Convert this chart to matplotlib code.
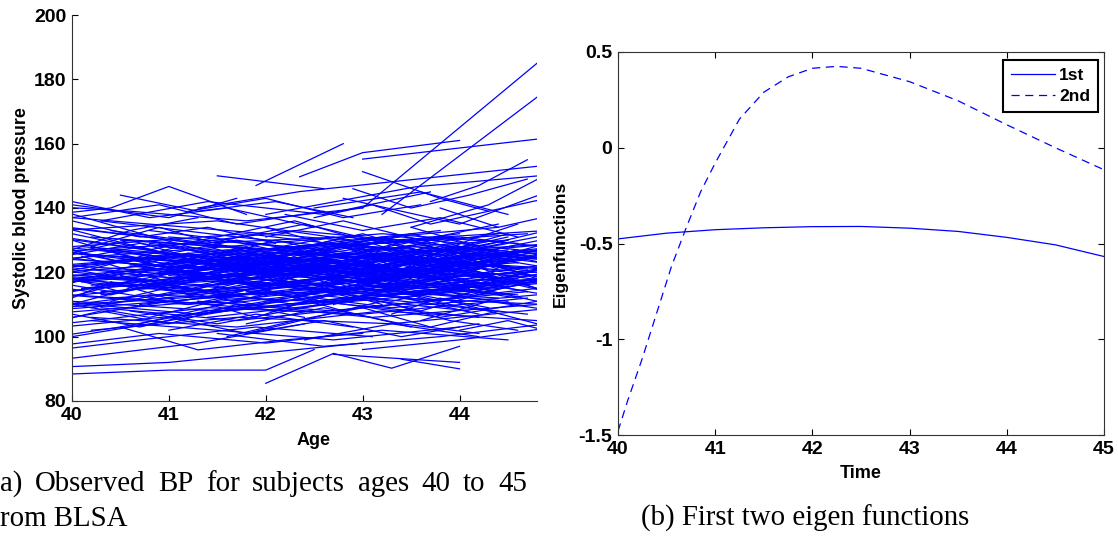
import matplotlib
matplotlib.use("Agg")
import matplotlib.pyplot as plt

# ---- (a) observed systolic BP, one polyline per subject (visit ages / values) ----
visit_ages = [
    [39.6, 41.2, 42.9, 44.6], [40.0, 41.5, 43.1, 45.0], [39.8, 41.0, 42.3, 43.7, 45.2],
    [40.2, 42.0, 43.8], [39.5, 40.8, 42.5, 44.2], [40.0, 41.7, 43.4, 45.1],
    [39.7, 41.3, 42.8, 44.4], [40.1, 41.9, 43.5, 45.0], [39.9, 41.4, 43.0, 44.7],
    [40.3, 41.8, 43.3, 44.9], [39.6, 41.1, 42.6, 44.0, 45.3], [40.0, 42.2, 44.1],
    [39.8, 41.6, 43.2, 44.8], [40.4, 41.9, 43.6, 45.1], [39.5, 40.9, 42.4, 43.9, 45.4],
    [40.0, 41.5, 43.0, 44.5], [39.7, 41.2, 42.7, 44.3], [40.2, 41.7, 43.2, 44.8],
    [39.9, 41.5, 42.9, 44.4], [40.1, 41.6, 43.1, 44.6], [39.6, 41.0, 42.5, 44.0, 45.5],
    [40.5, 42.1, 43.7, 45.2], [39.8, 41.3, 42.8, 44.2], [40.0, 41.8, 43.5, 45.0],
    [39.5, 41.1, 42.6, 44.1], [40.3, 41.9, 43.4, 44.9], [39.7, 41.4, 43.0, 44.6],
    [40.0, 41.6, 43.2, 44.7], [39.9, 41.2, 42.7, 44.3], [40.2, 41.7, 43.3, 45.0],
    [39.6, 41.3, 42.9, 44.5], [40.1, 41.5, 43.0, 44.4], [39.8, 41.0, 42.4, 43.8, 45.2],
    [40.4, 42.0, 43.6, 45.1], [39.5, 41.1, 42.7, 44.2], [40.0, 41.9, 43.7],
    [39.7, 41.4, 43.1, 44.8], [40.2, 41.8, 43.4, 44.9], [39.9, 41.6, 43.2, 44.6],
    [40.1, 41.3, 42.8, 44.3], [39.6, 41.2, 42.6, 44.0, 45.4], [40.3, 41.7, 43.3, 44.7],
    [39.8, 41.5, 43.0, 44.5], [40.0, 41.4, 42.9, 44.4], [39.5, 41.0, 42.5, 44.1],
    [40.5, 42.0, 43.5, 45.0], [39.7, 41.3, 42.8, 44.2], [40.2, 41.9, 43.6, 45.2],
    [39.9, 41.6, 43.1, 44.7], [40.1, 41.8, 43.4, 44.9], [39.6, 41.1, 42.7, 44.3],
    [40.0, 41.5, 43.2, 44.8], [39.8, 41.4, 42.9, 44.6], [40.3, 41.7, 43.0, 44.5],
    [39.5, 41.2, 42.8, 44.4], [40.2, 41.6, 43.3, 44.9], [39.7, 41.0, 42.6, 44.1],
    [40.0, 41.8, 43.5, 45.1], [39.9, 41.3, 42.7, 44.2], [40.4, 41.9, 43.4, 45.0],
    [41.0, 42.3, 43.6], [41.2, 42.5, 43.9], [40.8, 42.1, 43.4, 44.6],
    [41.4, 42.7, 44.0], [41.1, 42.4, 43.7, 45.0], [40.9, 42.2, 43.5],
    [41.3, 42.6, 44.1], [41.6, 42.9, 44.3], [40.7, 42.0, 43.3, 44.8],
    [41.5, 42.8, 44.2], [41.2, 42.4, 43.8], [41.0, 42.6, 44.0],
    [41.8, 43.1, 44.5], [40.6, 41.9, 43.2, 44.7], [41.4, 42.9, 44.4],
    [41.7, 43.0, 44.6], [41.1, 42.5, 43.9], [41.9, 43.3, 44.8],
    [40.9, 42.3, 43.7], [41.3, 42.7, 44.0], [42.0, 43.2, 44.5],
    [41.5, 42.8, 44.3], [40.8, 42.2, 43.6, 45.0], [41.6, 43.0, 44.4],
    [42.1, 43.4, 44.9], [41.0, 42.4, 43.8], [41.7, 43.1, 44.7],
    [42.3, 43.5, 44.8], [41.2, 42.6, 44.1], [41.9, 43.2, 44.6],
    [39.7, 40.6, 41.5, 42.4, 43.3, 44.2, 45.1], [40.0, 40.9, 41.8, 42.7, 43.6, 44.5],
    [39.8, 40.7, 41.6, 42.5, 43.4, 44.3], [40.1, 41.0, 41.9, 42.8, 43.7, 44.6],
    [39.6, 40.5, 41.4, 42.3, 43.2, 44.1, 45.0], [40.2, 41.1, 42.0, 42.9, 43.8, 44.7],
    [39.9, 40.8, 41.7, 42.6, 43.5, 44.4], [40.0, 41.2, 42.4, 43.6, 44.8],
    [39.5, 40.7, 41.9, 43.1, 44.3], [40.3, 41.5, 42.7, 43.9, 45.1],
    [39.7, 40.9, 42.1, 43.3, 44.5], [40.1, 41.3, 42.5, 43.7, 44.9],
    [39.8, 41.0, 42.2, 43.4, 44.6], [40.4, 41.6, 42.8, 44.0, 45.2],
    [39.6, 40.8, 42.0, 43.2, 44.4], [40.0, 41.1, 42.3, 43.5, 44.7],
    [39.9, 41.2, 42.5, 43.8, 45.1], [40.2, 41.4, 42.6, 43.8, 45.0],
    [39.5, 40.6, 41.7, 42.8, 43.9, 45.0], [40.0, 41.3, 42.6, 43.9],
    [40.6, 41.6, 42.6, 43.6, 44.6], [40.8, 41.8, 42.8, 43.8, 44.8],
    [40.5, 41.5, 42.5, 43.5, 44.5], [40.7, 41.7, 42.7, 43.7, 44.7],
    [40.9, 41.9, 42.9, 43.9, 44.9], [41.0, 42.0, 43.0, 44.0, 45.0],
    [40.4, 41.4, 42.4, 43.4, 44.4], [40.6, 41.5, 42.4, 43.3, 44.2],
    [41.1, 42.1, 43.1, 44.1, 45.1], [40.3, 41.2, 42.1, 43.0, 43.9, 44.8],
    [41.3, 42.2, 43.1, 44.0, 44.9], [40.8, 41.7, 42.6, 43.5, 44.4],
    [41.5, 42.4, 43.3, 44.2], [40.9, 41.8, 42.7, 43.6, 44.5],
    [41.2, 42.1, 43.0, 43.9, 44.8], [41.4, 42.3, 43.2, 44.1, 45.0],
    [41.6, 42.5, 43.4, 44.3], [41.0, 41.9, 42.8, 43.7, 44.6],
    [41.8, 42.7, 43.6, 44.5], [41.3, 42.4, 43.5, 44.6],
    [40.0, 40.7, 41.4, 42.1], [39.6, 40.3, 41.0, 41.7, 42.4],
    [40.0, 40.6, 41.2, 41.8], [39.8, 40.5, 41.2, 41.9, 42.6],
    [40.0, 40.9, 41.8], [39.7, 40.4, 41.1, 41.8],
    [40.0, 40.8, 41.6, 42.4], [39.9, 40.6, 41.3],
    [40.0, 40.7, 41.5], [39.5, 40.4, 41.3, 42.2],
    [43.0, 43.7, 44.4, 45.1], [43.2, 43.9, 44.6],
    [42.9, 43.6, 44.3, 45.0], [43.4, 44.1, 44.8],
    [42.8, 43.5, 44.2, 44.9], [43.1, 43.8, 44.5],
    [43.5, 44.2, 44.9], [42.7, 43.4, 44.1, 44.8],
    [43.3, 44.0, 44.7], [43.6, 44.3, 45.0],
    [42.0, 42.8, 43.6, 44.4], [41.8, 42.6, 43.4, 44.2],
    [42.2, 43.0, 43.8, 44.6], [41.6, 42.3, 43.0, 43.7, 44.4],
    [44.0, 44.5, 45.0], [43.8, 44.4, 45.0],
    [40.0, 40.8, 41.6, 42.5], [39.6, 40.5, 41.4],
    [41.0, 41.9, 42.9], [42.4, 43.3, 44.2],
    [40.0, 40.5, 41.0, 41.5, 42.0], [40.0, 40.6, 41.3, 42.0, 42.7],
    [40.0, 40.4, 41.1, 41.9], [40.0, 40.8, 41.5, 42.3, 43.0],
    [40.0, 40.7, 41.4, 42.2], [41.0, 41.6, 42.2, 42.8, 43.4, 44.0],
    [41.2, 41.8, 42.4, 43.0, 43.6, 44.2], [41.4, 42.0, 42.6, 43.2, 43.8, 44.4],
    [41.1, 41.7, 42.3, 42.9, 43.5, 44.1], [41.3, 41.9, 42.5, 43.1, 43.7, 44.3],
    [41.5, 42.1, 42.7, 43.3, 43.9, 44.5], [41.7, 42.3, 42.9, 43.5, 44.1, 44.7],
    [41.9, 42.5, 43.1, 43.7, 44.3, 44.9], [42.0, 42.6, 43.2, 43.8, 44.4, 45.0],
    [42.2, 42.8, 43.4, 44.0, 44.6], [42.4, 43.0, 43.6, 44.2, 44.8],
    [42.6, 43.2, 43.8, 44.4, 45.0], [41.6, 42.4, 43.2, 44.0, 44.8],
    [40.8, 41.5, 42.2, 42.9, 43.6], [40.6, 41.3, 42.0, 42.7, 43.4],
    [40.4, 41.1, 41.8, 42.5, 43.2], [40.2, 40.9, 41.6, 42.3, 43.0],
    [40.5, 41.2, 41.9, 42.6, 43.3], [40.7, 41.4, 42.1, 42.8, 43.5],
    [43.0, 43.5, 44.0, 44.5, 45.0], [43.1, 43.6, 44.1, 44.6],
    [43.3, 43.8, 44.3, 44.8], [42.5, 43.1, 43.7, 44.3, 44.9],
    [41.2, 42.0, 42.8, 43.6], [40.0, 40.9, 41.7, 42.6],
    [41.8, 42.5, 43.2, 43.9, 44.6], [42.9, 43.5, 44.1, 44.7],
    [40.5, 41.3, 42.1, 42.9], [43.7, 44.2, 44.7],
    [41.0, 41.8, 42.6, 43.4, 44.2],
    # upper band / outliers
    [39.5, 40.6, 41.8, 43.0], [39.8, 40.4, 41.0, 41.8], [41.5, 42.6],
    [41.9, 42.8], [42.35, 43.0, 44.0], [43.0, 45.0],
    [43.0, 43.8, 44.3], [41.3, 42.35, 45.0], [43.0, 45.0],
    [43.2, 45.0], [42.0, 43.55, 45.0], [40.0, 41.0, 41.7],
    [42.5, 43.6, 44.5], [43.5, 44.3, 45.0], [40.3, 41.4, 42.6, 43.7],
    [42.8, 44.0, 45.0],
    # lower band
    [40.0, 41.0, 42.0, 42.5], [40.0, 41.0, 42.0, 43.0], [40.0, 41.3, 42.4],
    [40.0, 40.8, 41.6], [42.0, 42.7, 43.3, 44.0], [42.7, 44.0],
    [43.4, 44.0], [40.5, 41.3, 42.2, 43.0], [39.8, 40.9, 42.0, 43.2, 44.5],
    [41.5, 42.6, 43.8, 44.9], [43.0, 44.0, 45.0], [40.2, 41.5, 42.7, 44.0],
    [39.6, 40.7, 41.9, 43.1],
]
visit_bp = [
    [118, 122, 117, 125], [126, 121, 128, 124], [112, 116, 110, 114, 119],
    [131, 127, 133], [108, 113, 111, 106], [122, 119, 124, 121],
    [135, 129, 131, 127], [115, 118, 113, 117], [104, 109, 107, 112],
    [127, 124, 130, 133], [120, 117, 123, 119, 116], [110, 114, 108],
    [124, 128, 122, 126], [117, 113, 116, 120], [129, 125, 121, 126, 130],
    [113, 110, 115, 111], [121, 125, 118, 122], [106, 103, 108, 105],
    [133, 136, 130, 134], [119, 115, 120, 123], [116, 120, 124, 119, 121],
    [125, 121, 127, 123], [111, 107, 112, 116], [128, 132, 126, 129],
    [123, 118, 121, 117], [114, 117, 112, 110], [108, 112, 116, 113],
    [137, 133, 129, 132], [120, 123, 119, 115], [102, 106, 104, 109],
    [126, 129, 125, 122], [117, 121, 118, 124], [131, 126, 122, 128, 125],
    [112, 115, 119, 116], [119, 114, 117, 121], [124, 120, 126],
    [107, 111, 106, 110], [121, 118, 123, 127], [134, 128, 132, 129],
    [115, 119, 113, 117], [127, 123, 128, 131, 126], [109, 105, 110, 114],
    [122, 126, 121, 118], [118, 114, 119, 122], [113, 117, 121, 115],
    [130, 127, 123, 128], [125, 121, 126, 120], [116, 120, 115, 119],
    [103, 108, 112, 107], [128, 124, 120, 125], [121, 125, 129, 124],
    [111, 108, 113, 117], [119, 116, 122, 118], [136, 131, 127, 130],
    [114, 110, 115, 112], [123, 127, 124, 121], [117, 121, 116, 120],
    [126, 122, 128, 124], [109, 113, 118, 114], [120, 116, 121, 125],
    [124, 119, 123], [117, 122, 118], [129, 125, 121, 126],
    [112, 116, 121], [121, 126, 122, 117], [115, 111, 116],
    [127, 123, 128], [119, 115, 120], [110, 114, 109, 113],
    [125, 129, 124], [118, 121, 116], [131, 127, 132],
    [114, 118, 113], [122, 118, 124, 120], [106, 111, 115],
    [126, 122, 119], [120, 124, 127], [117, 113, 118],
    [128, 133, 129], [111, 108, 112], [123, 119, 124],
    [116, 120, 115], [133, 128, 124, 127], [109, 114, 118],
    [127, 131, 126], [119, 115, 111], [122, 126, 121],
    [113, 117, 122], [125, 121, 117], [118, 122, 126],
    [119, 124, 118, 127, 121, 116, 123], [130, 122, 128, 119, 125, 131],
    [111, 118, 113, 120, 114, 109], [125, 117, 123, 129, 120, 126],
    [107, 114, 120, 112, 118, 124, 117], [121, 128, 122, 116, 123, 119],
    [134, 127, 121, 126, 132, 125], [116, 110, 117, 111, 115],
    [123, 129, 124, 130, 122], [113, 119, 125, 118, 112],
    [128, 121, 115, 122, 127], [118, 124, 119, 113, 120],
    [105, 111, 108, 115, 110], [127, 122, 128, 123, 129],
    [120, 115, 121, 126, 118], [114, 120, 126, 119, 124],
    [131, 125, 120, 127, 122], [109, 116, 111, 106, 112],
    [122, 118, 125, 121, 128, 124], [117, 123, 116, 122],
    [126, 120, 124, 130, 123], [112, 118, 122, 117, 121],
    [119, 113, 118, 124, 116], [124, 130, 125, 119, 127],
    [115, 110, 116, 121, 114], [121, 126, 120, 125, 131],
    [133, 129, 135, 128, 132], [108, 104, 109, 113, 107],
    [118, 123, 117, 113, 119], [127, 121, 126, 132, 124, 120],
    [116, 121, 125, 120, 126], [122, 127, 121, 116, 123],
    [110, 115, 111, 117], [129, 123, 119, 125, 130],
    [113, 118, 123, 117, 111], [124, 119, 126, 121, 127],
    [117, 122, 116, 120], [120, 116, 122, 128, 121],
    [126, 131, 124, 129], [107, 112, 117, 112],
    [136, 131, 134, 129], [103, 108, 104, 110, 106],
    [127, 133, 128, 124], [115, 121, 126, 120, 114],
    [121, 116, 123], [129, 124, 119, 125],
    [110, 106, 112, 117], [139, 133, 137],
    [124, 128, 122], [117, 113, 119, 123],
    [119, 125, 118, 123], [128, 122, 127],
    [113, 108, 114, 119], [121, 127, 131],
    [125, 130, 123, 118], [116, 111, 117],
    [134, 128, 133], [110, 116, 121, 115],
    [123, 118, 114], [105, 111, 108],
    [131, 136, 130, 135], [104, 109, 104, 101],
    [138, 133, 137, 131], [100, 105, 109, 103, 108],
    [102, 105, 101], [140, 134, 138],
    [142, 137, 140, 134], [99, 103, 108],
    [102, 107, 103], [99, 104, 100],
    [118, 114, 120, 125, 119], [126, 130, 124, 119, 123],
    [112, 117, 111, 115], [132, 127, 131, 136, 130],
    [107, 103, 108, 112], [122, 117, 123, 128, 121, 125],
    [114, 119, 124, 118, 113, 119], [128, 123, 117, 122, 127, 121],
    [119, 125, 121, 115, 120, 126], [111, 106, 112, 117, 111, 108],
    [125, 130, 126, 121, 127, 132], [117, 112, 118, 123, 116, 120],
    [121, 127, 122, 118, 124, 129], [134, 129, 125, 131, 126, 122],
    [109, 114, 119, 113, 117], [126, 120, 115, 121, 127],
    [118, 123, 128, 122, 116], [130, 125, 131, 126, 122],
    [116, 122, 117, 112, 118], [124, 119, 125, 130, 124],
    [111, 116, 122, 116, 110], [128, 134, 128, 123, 127],
    [119, 113, 118, 124, 120], [104, 109, 114, 108, 103],
    [114, 119, 124, 118, 113], [129, 124, 130, 135],
    [107, 112, 108, 104], [137, 141, 135, 139, 143],
    [139, 143, 137, 141], [137, 141, 135, 139],
    [101, 106, 111, 105, 102], [146, 140, 144, 149],
    [144, 139, 142, 137], [142, 147, 155],
    [106, 101, 105, 100, 104],
    # upper band / outliers
    [141, 139, 136, 140], [138, 140, 146.7, 138], [150, 146],
    [147, 160], [149.7, 157.2, 161], [155.2, 162.1],
    [151.3, 143, 139], [140, 145.1, 153.6], [140, 190],
    [138, 179], [138, 146.6, 150.5], [141, 137, 143],
    [140, 145, 138], [134, 141, 152], [136, 142, 138, 145],
    [143, 135, 146],
    # lower band
    [88.4, 89.6, 89.6, 96], [90.7, 92, 95, 98], [93.3, 98, 104],
    [100, 104, 108], [85.5, 94.8, 90.2, 97], [94.5, 92],
    [93, 90], [103, 95.9, 99, 101], [97, 101, 98, 102, 99],
    [101, 97, 100, 104], [96, 99, 103], [105, 102, 99, 103],
    [95, 99, 103, 100],
]

age_ticks = [40, 41, 42, 43, 44]
bp_ticks = [80, 100, 120, 140, 160, 180, 200]

# ---- (b) first two eigenfunctions ----
time_1st = [40, 40.5, 41, 41.5, 42, 42.5, 43, 43.5, 44, 44.5, 45]
eig_1st = [-0.476, -0.446, -0.428, -0.418, -0.412, -0.411, -0.42, -0.437, -0.468, -0.507, -0.568]
time_2nd = [40, 40.1, 40.25, 40.4, 40.55, 40.7, 40.85, 41.0, 41.25, 41.5, 41.75,
            42.0, 42.25, 42.5, 43.0, 43.5, 44.0, 44.5, 45]
eig_2nd = [-1.48, -1.32, -1.1, -0.86, -0.62, -0.42, -0.23, -0.08, 0.15, 0.29, 0.37,
           0.415, 0.425, 0.415, 0.345, 0.245, 0.12, 0.0, -0.115]
time_ticks = [40, 41, 42, 43, 44, 45]
eig_ticks = [-1.5, -1, -0.5, 0, 0.5]
eig_ticklabels = ["-1.5", "-1", "-0.5", "0", "0.5"]

plt.rcParams["font.family"] = ["Liberation Sans", "DejaVu Sans"]
BLUE = (0, 0, 1)
W, H = 1118, 539

fig = plt.figure(figsize=(W / 100, H / 100), dpi=100)

# left panel (cropped at ~44.8 like the source)
ax1 = fig.add_axes([72 / W, 1 - 401 / H, 465 / W, 386 / H])
for a, v in zip(visit_ages, visit_bp):
    ax1.plot(a, v, color=BLUE, lw=0.9)
ax1.set_xlim(40, 44.8)
ax1.set_ylim(80, 200)
ax1.set_xticks(age_ticks)
ax1.set_yticks(bp_ticks)
ax1.spines["top"].set_visible(False)
ax1.spines["right"].set_visible(False)
ax1.set_xlabel("Age", fontsize=13, fontweight="bold")
ax1.xaxis.set_label_coords((314 - 72) / 465, -0.08)
ax1.set_ylabel("Systolic blood pressure", fontsize=12.8, fontweight="bold", labelpad=3)

# right panel
ax2 = fig.add_axes([618 / W, 1 - 435 / H, 486 / W, 383 / H])
ax2.plot(time_1st, eig_1st, color=BLUE, lw=0.9, label="1st")
ax2.plot(time_2nd, eig_2nd, color=BLUE, lw=0.9, dashes=(6.5, 4.5), label="2nd")
ax2.set_xlim(40, 45)
ax2.set_ylim(-1.5, 0.5)
ax2.set_xticks(time_ticks)
ax2.set_yticks(eig_ticks)
ax2.set_yticklabels(eig_ticklabels)
ax2.tick_params(top=True, right=True)
ax2.set_xlabel("Time", fontsize=13, fontweight="bold", labelpad=5)
ax2.set_ylabel("Eigenfunctions", fontsize=12.6, fontweight="bold", labelpad=8)
leg = ax2.legend(loc="upper right", bbox_to_anchor=(1 - 6 / 486, 1 - 8 / 383),
                 borderaxespad=0, fancybox=False, framealpha=1, handlelength=2.55,
                 handletextpad=0.25, borderpad=0.45, labelspacing=0.35,
                 prop={"weight": "bold", "size": 12.5})
leg.get_frame().set_edgecolor("black")
leg.get_frame().set_linewidth(1.5)

for ax in (ax1, ax2):
    ax.tick_params(direction="in", length=4, width=0.8, labelsize=14, pad=4)
    for lab in ax.get_xticklabels() + ax.get_yticklabels():
        lab.set_fontweight("bold")
    for s in ax.spines.values():
        s.set_linewidth(0.8)
        s.set_color("#333333")

# captions (serif, justified first line as in the paper)
cap = dict(family=["Liberation Serif", "DejaVu Serif"], fontsize=20.8, va="baseline")
words = ["a)", "Observed", "BP", "for", "subjects", "ages", "40", "to", "45"]
line_right = 527
texts = [fig.text(0, 1 - 491 / H, w, ha="left", **cap) for w in words]
rend = fig.canvas.get_renderer()
widths = [t.get_window_extent(rend).width for t in texts]
gap = (line_right - sum(widths)) / (len(words) - 1)
x = 0.0
for t, w in zip(texts, widths):
    t.set_x(x / W)
    x += w + gap
fig.text(0, 1 - 526 / H, "rom BLSA", ha="left", **cap)
fig.text(805 / W, 1 - 526 / H, "(b) First two eigen functions", ha="center", **cap)

fig.savefig("out.png", dpi=100)
